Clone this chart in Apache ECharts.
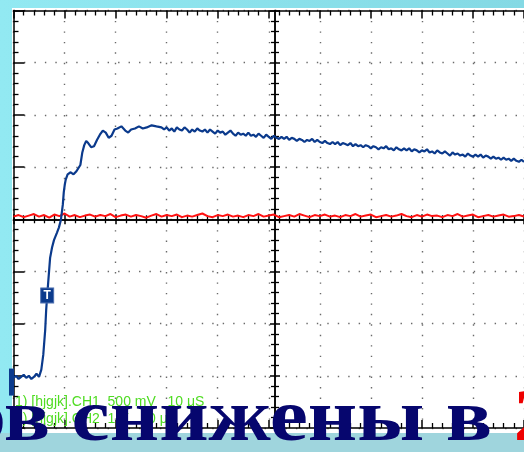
<!DOCTYPE html>
<html>
<head>
<meta charset="utf-8">
<script src="https://cdn.jsdelivr.net/npm/echarts@6/dist/echarts.min.js"></script>
<style>
  html, body { margin: 0; padding: 0; }
  #chart { width: 524px; height: 452px; }
</style>
</head>
<body>
<div id="chart"></div>
<script>
// Oscilloscope capture: CH1 (500 mV/div) step response and CH2 (1 V/div) flat trace, 10 us/div.

// CH1 leading edge: time (us) and voltage (V)
const ch1Time = [
  0, 0.5, 1, 1.5, 2, 2.5, 3, 3.5, 4, 4.5, 5,
  5.45, 5.83, 6.21, 6.4, 6.6, 6.79, 6.98, 7.17, 7.55, 7.93, 8.5, 8.89, 9.27, 9.66, 9.85,
  10.04, 10.23, 10.6, 11.2, 11.76, 12.33, 12.7, 13.1, 13.48, 13.86, 14.24, 14.63, 15.2,
  15.77, 16.35, 16.92, 17.5, 18.07, 18.64, 19.2, 19.79, 20.36, 21.13, 21.89, 22.47, 23.04,
  23.8, 24.57, 25.33, 26.1, 27.06, 28.0, 28.97, 29.5
];
const ch1Volts = [
  -1.52, -1.50, -1.53, -1.51, -1.49, -1.52, -1.50, -1.53, -1.51, -1.48, -1.51,
  -1.44, -1.30, -1.06, -0.87, -0.73, -0.61, -0.49, -0.37, -0.27, -0.20, -0.13, -0.08, -0.01, 0.14, 0.26,
  0.33, 0.38, 0.43, 0.45, 0.43, 0.46, 0.45, 0.52, 0.64, 0.71, 0.75, 0.73, 0.69,
  0.70, 0.76, 0.81, 0.85, 0.83, 0.78, 0.80, 0.86, 0.87, 0.89, 0.85, 0.83, 0.86,
  0.87, 0.89, 0.87, 0.88, 0.90, 0.89, 0.88, 0.86
];

// CH1 slow decay: samples every 0.5 us from 30 us (V)
const ch1TailStart = 30;
const ch1TailStep = 0.5;
const ch1TailVolts = [
  0.88, 0.85, 0.87, 0.84, 0.88, 0.86, 0.85, 0.88, 0.86, 0.83, 0.86, 0.84, 0.87, 0.85, 0.84, 0.86, 0.83, 0.86, 0.84, 0.82,
  0.85, 0.83, 0.84, 0.81, 0.83, 0.85, 0.82, 0.80, 0.83, 0.81, 0.82, 0.80, 0.83, 0.80, 0.81, 0.79, 0.82, 0.80, 0.78, 0.81,
  0.79, 0.77, 0.80, 0.78, 0.77, 0.79, 0.77, 0.79, 0.76, 0.78, 0.77, 0.75, 0.77, 0.76, 0.74, 0.76, 0.75, 0.77, 0.74, 0.76,
  0.74, 0.73, 0.75, 0.73, 0.72, 0.74, 0.72, 0.74, 0.71, 0.73, 0.72, 0.71, 0.73, 0.70, 0.72, 0.70, 0.71, 0.69, 0.71, 0.70,
  0.68, 0.70, 0.69, 0.67, 0.69, 0.68, 0.70, 0.67, 0.68, 0.66, 0.69, 0.67, 0.66, 0.68, 0.66, 0.68, 0.65, 0.67, 0.66, 0.64,
  0.66, 0.65, 0.67, 0.64, 0.65, 0.63, 0.66, 0.64, 0.63, 0.65, 0.63, 0.61, 0.64, 0.62, 0.63, 0.61, 0.62, 0.60, 0.63, 0.61,
  0.60, 0.62, 0.60, 0.62, 0.59, 0.61, 0.60, 0.58, 0.60, 0.58, 0.59, 0.57, 0.59, 0.57, 0.58, 0.56, 0.58, 0.56, 0.55, 0.57,
  0.55
];

// CH2 trace: one sample per microsecond from 0 us (V)
const ch2Volts = [
  0.05, 0.08, 0.04, 0.07, 0.10, 0.05, 0.08, 0.03, 0.09, 0.06, 0.11, 0.05, 0.08, 0.04, 0.07, 0.09, 0.05, 0.08, 0.06, 0.10,
  0.04, 0.07, 0.09, 0.05, 0.08, 0.06, 0.03, 0.07, 0.10, 0.05, 0.08, 0.06, 0.09, 0.04, 0.07, 0.05, 0.08, 0.11, 0.06, 0.04,
  0.08, 0.06, 0.09, 0.05, 0.07, 0.04, 0.08, 0.06, 0.10, 0.05, 0.07, 0.09, 0.04, 0.06, 0.08, 0.05, 0.10, 0.07, 0.04, 0.08,
  0.06, 0.09, 0.05, 0.07, 0.04, 0.08, 0.06, 0.10, 0.05, 0.07, 0.09, 0.04, 0.06, 0.08, 0.05, 0.07, 0.10, 0.06, 0.04, 0.08,
  0.05, 0.09, 0.06, 0.07, 0.04, 0.08, 0.06, 0.10, 0.05, 0.07, 0.09, 0.04, 0.06, 0.08, 0.05, 0.07, 0.09, 0.05, 0.06, 0.08,
  0.05
];
const ch2Step = 1; // us between CH2 samples

// Trigger point and CH1 reference marker
const triggerPoint = [6.6, -0.73];
const ch1Marker = [0, -1.56];

// Readout lines and caption
const readout = ['1) [hjgjk].CH1  500 mV   10 \u03bcS', '2) [hjgjk].CH2  1 V   10 \u03bcS'];
const captionText = 'ов снижены в ';
const captionNumber = '2';

const ch1Data = ch1Time.map((t, i) => [t, ch1Volts[i]])
  .concat(ch1TailVolts.map((v, i) => [ch1TailStart + i * ch1TailStep, v]));
const ch2Data = ch2Volts.map((v, i) => [i * ch2Step, v]);

const chart = echarts.init(document.getElementById('chart'), null, { renderer: 'canvas' });

const GRID = { left: 13.5, top: 10.5, width: 523, height: 417.5 };
const dotted = { color: '#6a6a6a', width: 1.4, type: [1.4, 9.06] };

function timeAxis(extra) {
  return Object.assign({
    type: 'value', min: 0, max: 100, interval: 10,
    axisLabel: { show: false },
    axisLine: { show: true, onZero: false, lineStyle: { color: '#000', width: 1.5 } },
    axisTick: { show: true, inside: true, length: 8, lineStyle: { color: '#000', width: 1.5 } },
    minorTick: { show: true, splitNumber: 5, length: 5, lineStyle: { color: '#000', width: 1.3 } },
    splitLine: { show: false }
  }, extra);
}
function voltAxis(extra) {
  return Object.assign({
    type: 'value', min: -2, max: 2, interval: 0.5,
    axisLabel: { show: false },
    axisLine: { show: true, onZero: false, lineStyle: { color: '#000', width: 1.5 } },
    axisTick: { show: true, inside: true, length: 11, lineStyle: { color: '#000', width: 1.5 } },
    minorTick: { show: true, splitNumber: 5, length: 5, lineStyle: { color: '#000', width: 1.3 } },
    splitLine: { show: false }
  }, extra);
}
const crossTick = (inside) => ({
  axisTick: { show: true, inside: inside, length: 5, lineStyle: { color: '#000', width: 1.5 } },
  minorTick: { show: true, splitNumber: 5, length: 4, lineStyle: { color: '#000', width: 1.3 } }
});

chart.setOption({
  animation: false,
  backgroundColor: {
    type: 'linear', x: 0, y: 0, x2: 1, y2: 0,
    colorStops: [{ offset: 0, color: '#92e9f2' }, { offset: 1, color: '#84d9e4' }]
  },
  graphic: [
    { type: 'rect', z: -10, shape: { x: 12, y: 8, width: 512, height: 425 }, style: { fill: '#ffffff' } },
    { type: 'rect', z: -10, shape: { x: 0, y: 433, width: 524, height: 19 }, style: { fill: '#9fd5dd' } },
    { type: 'text', z: 50, x: 15, y: 395, style: { text: readout[0], font: '14px "Liberation Sans"', fill: '#4fdc22' } },
    { type: 'text', z: 50, x: 15, y: 412, style: { text: readout[1], font: '14px "Liberation Sans"', fill: '#4fdc22' } },
    {
      type: 'text', z: 100, x: -37, y: 458, scaleX: 1.16,
      style: {
        text: '{a|' + captionText + '}{b|' + captionNumber + '}',
        verticalAlign: 'bottom',
        rich: {
          a: { font: 'bold 74px "Liberation Serif"', fill: '#06066e' },
          b: { font: 'bold 74px "Liberation Serif"', fill: '#ee0000' }
        }
      }
    }
  ],
  grid: GRID,
  xAxis: [
    timeAxis({ position: 'bottom', splitLine: { show: true, lineStyle: dotted } }),
    timeAxis({ position: 'top' }),
    timeAxis(Object.assign({ position: 'bottom', offset: -208.75 }, crossTick(true))),
    timeAxis(Object.assign({ position: 'bottom', offset: -208.75 }, crossTick(false)))
  ],
  yAxis: [
    voltAxis({ position: 'left', splitLine: { show: true, lineStyle: dotted } }),
    voltAxis(Object.assign({ position: 'left', offset: -261.5 }, crossTick(true))),
    voltAxis(Object.assign({ position: 'left', offset: -261.5 }, crossTick(false))),
    { type: 'value', min: -4, max: 4, interval: 1, show: false }
  ],
  series: [
    {
      name: 'CH2', type: 'line', xAxisIndex: 0, yAxisIndex: 3, data: ch2Data,
      symbol: 'none', lineStyle: { color: '#ff1010', width: 2 }, z: 3
    },
    {
      name: 'CH1', type: 'line', xAxisIndex: 0, yAxisIndex: 0, data: ch1Data,
      symbol: 'none', lineStyle: { color: '#0b3a8c', width: 2.2 }, z: 4,
      markPoint: {
        silent: true,
        data: [
          {
            coord: triggerPoint, symbol: 'rect', symbolSize: [13, 15],
            itemStyle: { color: '#0b3a8c', borderColor: '#4d6fb0', borderWidth: 1 },
            label: { show: true, formatter: 'T', color: '#fff', fontSize: 12, fontFamily: 'Liberation Sans', fontWeight: 'bold' }
          },
          {
            coord: ch1Marker, symbol: 'rect', symbolSize: [5, 27], symbolOffset: [-2, 0],
            itemStyle: { color: '#0b3a8c' }, label: { show: false }
          }
        ]
      }
    }
  ]
});
</script>
</body>
</html>
